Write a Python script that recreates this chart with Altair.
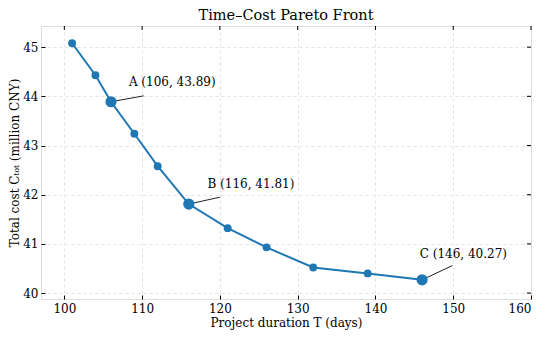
import altair as alt
import pandas as pd

# Pareto front data
durations = [101, 104, 106, 109, 112, 116, 121, 126, 132, 139, 146]
costs = [45.08, 44.43, 43.89, 43.24, 42.58, 41.81, 41.32, 40.93, 40.52, 40.40, 40.27]

# highlighted points
key_labels = ["A (106, 43.89)", "B (116, 41.81)", "C (146, 40.27)"]
key_T = [106, 116, 146]
key_C = [43.89, 41.81, 40.27]
text_T = [108.3, 118.4, 145.7]
text_C = [44.29, 42.22, 40.80]
arrow_T = [110.2, 120.0, 149.9]
arrow_C = [44.01, 41.95, 40.56]

x_ticks = [100, 110, 120, 130, 140, 150, 160]
y_ticks = [40, 41, 42, 43, 44, 45]

FONT = "DejaVu Serif"
BLUE = "#1f77b4"
W, H = 490, 273
FS = 12

df = pd.DataFrame({"T": durations, "C": costs})
kdf = pd.DataFrame({"label": key_labels, "T": key_T, "C": key_C,
                    "tx": text_T, "ty": text_C, "ax": arrow_T, "ay": arrow_C})
xt = pd.DataFrame({"xt": x_ticks})
yt = pd.DataFrame({"yt": y_ticks})

xs = alt.Scale(domain=[97, 160], nice=False, zero=False)
ys = alt.Scale(domain=[39.88, 45.43], nice=False, zero=False)

xaxis = alt.Axis(values=x_ticks, title="Project duration T (days)", grid=True,
                 gridDash=[3, 3], gridColor="#dcdcdc", gridWidth=0.8,
                 domain=False, tickSize=4, offset=-4, tickColor="black",
                 labelPadding=4, titlePadding=3, labelFont=FONT, titleFont=FONT,
                 labelFontSize=FS, titleFontSize=FS, titleFontWeight="normal",
                 labelColor="black", titleColor="black")
yaxis = alt.Axis(values=y_ticks, title="Total cost Cₜₒₜ (million CNY)", grid=True,
                 gridDash=[3, 3], gridColor="#dcdcdc", gridWidth=0.8,
                 domain=False, tickSize=4, offset=-4, tickColor="black",
                 labelPadding=3, titlePadding=1, labelFont=FONT, titleFont=FONT,
                 labelFontSize=FS, titleFontSize=FS, titleFontWeight="normal",
                 labelColor="black", titleColor="black")

base = alt.Chart(df)
line = base.mark_line(color=BLUE, strokeWidth=2).encode(
    x=alt.X("T:Q", scale=xs, axis=xaxis),
    y=alt.Y("C:Q", scale=ys, axis=yaxis),
)
pts = base.mark_circle(color=BLUE, size=62, opacity=1).encode(x="T:Q", y="C:Q")

kb = alt.Chart(kdf)
big = kb.mark_circle(color=BLUE, size=125, opacity=1).encode(x="T:Q", y="C:Q")
arrows = kb.mark_rule(color="#222222", strokeWidth=1).encode(
    x="T:Q", y="C:Q", x2="ax:Q", y2="ay:Q")
texts = kb.mark_text(align="left", baseline="middle", font=FONT, fontSize=FS,
                     color="black").encode(x="tx:Q", y="ty:Q", text="label:N")

# inward ticks on the top and right edges
top_ticks = alt.Chart(xt).mark_rule(color="black", strokeWidth=1).encode(
    x="xt:Q", y=alt.value(0), y2=alt.value(4))
right_ticks = alt.Chart(yt).mark_rule(color="black", strokeWidth=1).encode(
    y="yt:Q", x=alt.value(W - 4), x2=alt.value(W))

chart = alt.layer(line, arrows, pts, big, texts, top_ticks, right_ticks).properties(
    width=W, height=H,
    title=alt.TitleParams("Time–Cost Pareto Front", font=FONT, fontSize=14.5,
                          fontWeight="normal", color="black", anchor="middle", offset=2),
    padding={"left": 0, "top": 0, "right": 10, "bottom": 5},
).configure_view(stroke="black", strokeWidth=1.3).configure(background="white")

chart.save("out.html", embed_options={"renderer": "svg", "actions": False})
